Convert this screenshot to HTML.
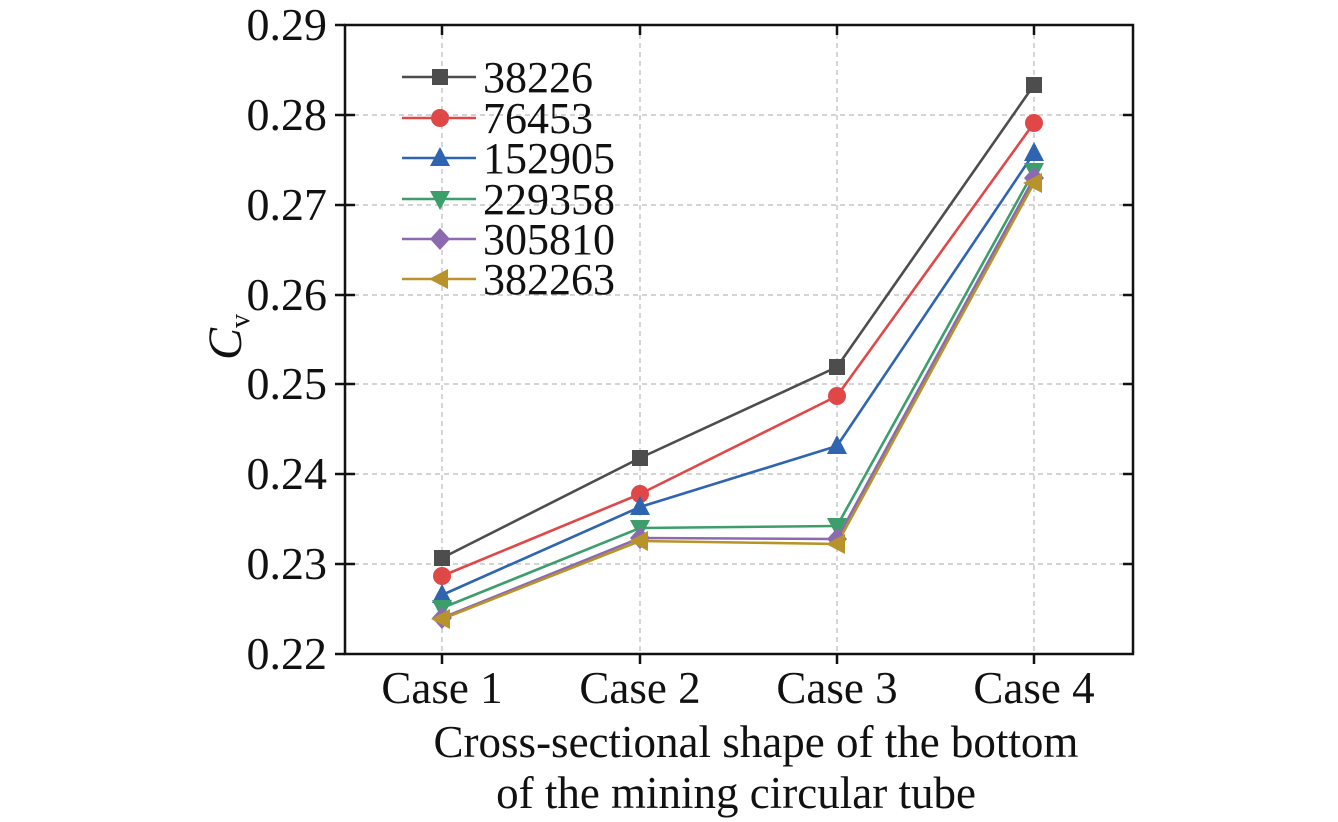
<!DOCTYPE html><html><head><style>body{margin:0;background:#fff}svg{display:block}svg text{font-family:"Liberation Serif","Times New Roman",serif;fill:#111}</style></head><body>
<svg width="1338" height="822" viewBox="0 0 1338 822" font-family="Liberation Serif, serif">
<g stroke="#bbb" stroke-width="1.2" stroke-dasharray="5,4">
<line x1="345" x2="1133" y1="115" y2="115"/><line x1="345" x2="1133" y1="205" y2="205"/><line x1="345" x2="1133" y1="295" y2="295"/><line x1="345" x2="1133" y1="384" y2="384"/><line x1="345" x2="1133" y1="474" y2="474"/><line x1="345" x2="1133" y1="564" y2="564"/>
<line x1="442" x2="442" y1="25" y2="654"/><line x1="640" x2="640" y1="25" y2="654"/><line x1="837" x2="837" y1="25" y2="654"/><line x1="1034" x2="1034" y1="25" y2="654"/>
</g>
<rect x="345" y="25" width="788" height="629" fill="none" stroke="#111" stroke-width="2.5"/>
<g stroke="#111" stroke-width="2.5">
<path d="M345 115h10M345 205h10M345 295h10M345 384h10M345 474h10M345 564h10M1133 115h-10M1133 205h-10M1133 295h-10M1133 384h-10M1133 474h-10M1133 564h-10M442 25v10M640 25v10M837 25v10M1034 25v10M442 654v10M640 654v10M837 654v10M1034 654v10M345 654h-10M345 564h-10M345 474h-10M345 384h-10M345 295h-10M345 205h-10M345 115h-10M345 25h-10"/>
</g>
<g font-size="46" text-anchor="end" font-family="Liberation Serif, serif">
<text x="327" y="40">0.29</text><text x="327" y="130">0.28</text><text x="327" y="220">0.27</text><text x="327" y="310">0.26</text><text x="327" y="399">0.25</text><text x="327" y="489">0.24</text><text x="327" y="579">0.23</text><text x="327" y="669">0.22</text>
</g>
<g font-size="45" text-anchor="middle" font-family="Liberation Serif, serif">
<text x="442" y="703">Case 1</text><text x="640" y="703">Case 2</text><text x="837" y="703">Case 3</text><text x="1034" y="703">Case 4</text>
<text x="756" y="757">Cross-sectional shape of the bottom</text><text x="736" y="808">of the mining circular tube</text>
</g>
<text transform="translate(241,360) rotate(-90)" font-size="48" font-style="italic" font-family="Liberation Serif, serif">C<tspan font-size="28" dy="8" font-style="normal">v</tspan></text>
<g fill="none" stroke-width="2.6">
<polyline stroke="#4d4d4d" points="442,558 640,458 837,367 1034,85"/>
<polyline stroke="#e04848" points="442,576 640,494 837,396 1034,123"/>
<polyline stroke="#2f65b0" points="442,595 640,507 837,446 1034,153"/>
<polyline stroke="#3c9e6b" points="442,608 640,528 837,526 1034,171"/>
<polyline stroke="#8b6ab0" points="442,618 640,538 837,539 1034,178"/>
<polyline stroke="#b8922a" points="442,619 640,541 837,544 1034,183"/>
</g>
<defs>
<rect id="sq" x="-8" y="-8" width="16" height="16" fill="#4d4d4d"/>
<circle id="ci" r="9" fill="#e04848"/>
<polygon id="tu" points="0,-11 10,8 -10,8" fill="#2f65b0"/>
<polygon id="td" points="0,11 10,-8 -10,-8" fill="#3c9e6b"/>
<polygon id="di" points="0,-11 10,0 0,11 -10,0" fill="#8b6ab0"/>
<polygon id="tl" points="-11,0 8,-10 8,10" fill="#b8922a"/>
</defs>
<use href="#sq" x="442" y="558"/><use href="#sq" x="640" y="458"/><use href="#sq" x="837" y="367"/><use href="#sq" x="1034" y="85"/>
<use href="#ci" x="442" y="576"/><use href="#ci" x="640" y="494"/><use href="#ci" x="837" y="396"/><use href="#ci" x="1034" y="123"/>
<use href="#tu" x="442" y="595"/><use href="#tu" x="640" y="507"/><use href="#tu" x="837" y="446"/><use href="#tu" x="1034" y="153"/>
<use href="#td" x="442" y="608"/><use href="#td" x="640" y="528"/><use href="#td" x="837" y="526"/><use href="#td" x="1034" y="171"/>
<use href="#di" x="442" y="618"/><use href="#di" x="640" y="538"/><use href="#di" x="837" y="539"/><use href="#di" x="1034" y="178"/>
<use href="#tl" x="442" y="619"/><use href="#tl" x="640" y="541"/><use href="#tl" x="837" y="544"/><use href="#tl" x="1034" y="183"/>
<g stroke-width="2.6">
<line x1="402" x2="476" y1="77" y2="77" stroke="#4d4d4d"/><line x1="402" x2="476" y1="118" y2="118" stroke="#e04848"/><line x1="402" x2="476" y1="158" y2="158" stroke="#2f65b0"/><line x1="402" x2="476" y1="199" y2="199" stroke="#3c9e6b"/><line x1="402" x2="476" y1="239" y2="239" stroke="#8b6ab0"/><line x1="402" x2="476" y1="279" y2="279" stroke="#b8922a"/>
</g>
<use href="#sq" x="440" y="77"/><use href="#ci" x="440" y="118"/><use href="#tu" x="440" y="158"/><use href="#td" x="440" y="199"/><use href="#di" x="440" y="239"/><use href="#tl" x="440" y="279"/>
<g font-size="44" font-family="Liberation Serif, serif">
<text x="483" y="92">38226</text><text x="483" y="133">76453</text><text x="483" y="173">152905</text><text x="483" y="214">229358</text><text x="483" y="254">305810</text><text x="483" y="294">382263</text>
</g>
</svg></body></html>
